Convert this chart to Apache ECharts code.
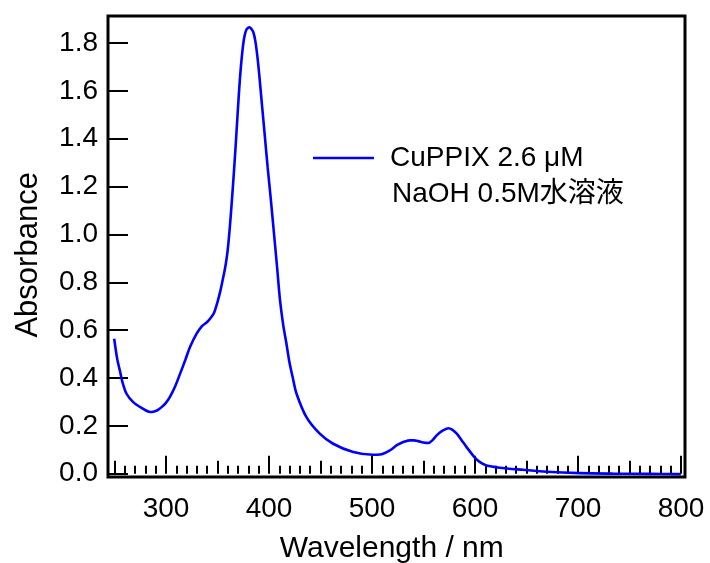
<!DOCTYPE html>
<html>
<head>
<meta charset="utf-8">
<script src="https://cdn.jsdelivr.net/npm/echarts@6/dist/echarts.min.js"></script>
<style>html,body{margin:0;padding:0;background:#fff;}#c{width:710px;height:563px;}</style>
</head>
<body>
<div id="c"></div>
<script>
const seriesName = 'CuPPIX 2.6 μM';
const legendNote = 'NaOH 0.5M水溶液';
const xTitle = 'Wavelength / nm';
const yTitle = 'Absorbance';
const wavelength = [250,253,255.5,258,262,268.5,276.6,284.7,288,292,296,300,304,309,314,319,323.6,330,335,340,344,347,350,353,355,358,360,362,364,366,368,370,372,374,376,378,380,381.5,383,385,387,389,391,393.5,396,399,402,405,408,411,414,417,420,423.5,427,436.6,449.5,462.5,482,501,508,511,517.5,524,527,532,537,541,545,550,555,559,563,568,574.4,578,582.5,587,592,600,605,611.4,624,647,669.6,702,734,770,800];
const absorbance = [0.566,0.48,0.433,0.385,0.336,0.301,0.277,0.26,0.261,0.267,0.28,0.297,0.322,0.365,0.42,0.477,0.531,0.587,0.618,0.635,0.655,0.675,0.715,0.765,0.805,0.87,0.93,1.02,1.13,1.25,1.38,1.52,1.65,1.75,1.82,1.855,1.866,1.868,1.862,1.848,1.81,1.745,1.66,1.54,1.423,1.28,1.15,1.01,0.87,0.725,0.625,0.55,0.47,0.4,0.336,0.238,0.169,0.127,0.092,0.081,0.082,0.085,0.099,0.12,0.127,0.136,0.141,0.141,0.138,0.132,0.13,0.142,0.162,0.18,0.192,0.186,0.169,0.143,0.113,0.069,0.05,0.036,0.027,0.018,0.01,0.004,0.002,0.001,0.0];
const tickWavelengths = [250,260,270,280,290,300,310,320,330,340,350,360,370,380,390,400,410,420,430,440,450,460,470,480,490,500,510,520,530,540,550,560,570,580,590,600,610,620,630,640,650,660,670,680,690,700,710,720,730,740,750,760,770,780,790,800];
const yTicks = {min: 0, max: 1.8, interval: 0.2};

const font = '"Liberation Sans", Arial, "Noto Sans CJK JP", sans-serif';
const chart = echarts.init(document.getElementById('c'), null, {renderer: 'canvas'});
const data = wavelength.map((w, i) => [w, absorbance[i]]);
const cats = tickWavelengths.map(String);
function tickGrid() {
  return {left: 114.5, right: 29, top: 43, bottom: 89.3, containLabel: false, outerBoundsMode: 'none'};
}

function catAxis(gridIndex, len, pred, withLabel) {
  const ax = {
    gridIndex: gridIndex, type: 'category', data: cats, boundaryGap: false, offset: 3.3,
    axisLine: {show: false},
    axisTick: {show: true, inside: true, length: len, interval: (i, v) => pred(+v), lineStyle: {color: '#000', width: 2}},
    splitLine: {show: false},
    axisLabel: {show: false}
  };
  if (withLabel) {
    ax.axisLabel = {show: true, interval: (i, v) => pred(+v), fontSize: 28, color: '#000', margin: 18, fontFamily: font};
    ax.name = xTitle; ax.nameLocation = 'middle'; ax.nameGap = 57;
    ax.nameTextStyle = {fontSize: 30, color: '#000', fontFamily: font, padding: [0, 12, 0, 0]};
  }
  return ax;
}

chart.setOption({
  animation: false,
  backgroundColor: '#fff',
  textStyle: {fontFamily: font},
  grid: [
    {left: 108, right: 25, top: 16, bottom: 86, show: true, borderColor: '#000', borderWidth: 3, backgroundColor: 'transparent', z: 10, containLabel: false, outerBoundsMode: 'none'},
    tickGrid(), tickGrid(), tickGrid()
  ],
  legend: {
    left: 313, top: 144, padding: 0,
    itemWidth: 61, itemHeight: 2.6,
    data: [{name: seriesName, icon: 'rect'}],
    itemStyle: {color: '#0000ff'},
    textStyle: {fontSize: 28, color: '#000', fontFamily: font, padding: [0, 0, 0, 11]},
    selectedMode: false
  },
  graphic: [{
    type: 'text', left: 392, top: 180,
    style: {text: legendNote, fontSize: 28, fill: '#000', fontFamily: font}
  }],
  xAxis: [
    {gridIndex: 0, type: 'value', min: 244, max: 804, show: false},
    catAxis(1, 18, v => v % 100 === 0, true),
    catAxis(2, 13, v => v % 50 === 0, false),
    catAxis(3, 8, v => true, false)
  ],
  yAxis: [
    {gridIndex: 0, type: 'value', min: -0.012, max: 1.915, show: false},
    {gridIndex: 1, type: 'value', min: yTicks.min, max: yTicks.max, interval: yTicks.interval, offset: 6.5,
      axisLine: {show: false},
      axisTick: {show: true, inside: true, length: 20, lineStyle: {color: '#000', width: 2}},
      splitLine: {show: false},
      axisLabel: {fontSize: 28, color: '#000', margin: 10, fontFamily: font, formatter: v => v.toFixed(1)},
      name: yTitle, nameLocation: 'middle', nameGap: 64,
      nameTextStyle: {fontSize: 31, color: '#000', fontFamily: font, padding: [0, 0, 0, 7]}
    },
    {gridIndex: 2, type: 'value', min: 0, max: 1.8, show: false},
    {gridIndex: 3, type: 'value', min: 0, max: 1.8, show: false}
  ],
  series: [{
    name: seriesName,
    type: 'line',
    xAxisIndex: 0, yAxisIndex: 0,
    data: data,
    smooth: 0.3,
    symbol: 'none',
    lineStyle: {color: '#0000ff', width: 2.6},
    itemStyle: {color: '#0000ff'},
    z: 5
  }]
});
</script>
</body>
</html>
